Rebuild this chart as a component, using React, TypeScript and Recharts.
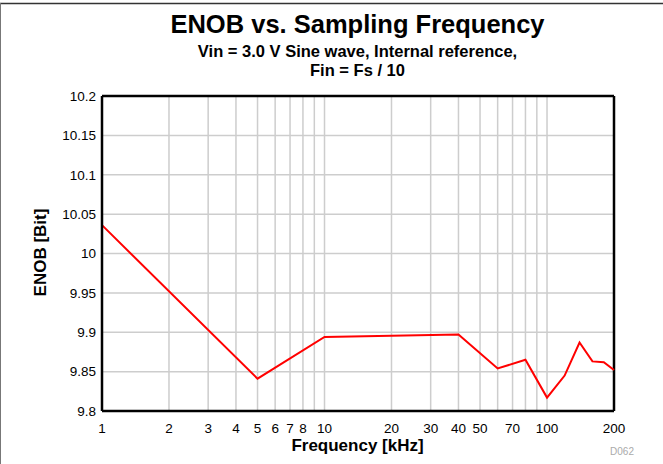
import React from "react";
import {
  LineChart,
  Line,
  XAxis,
  YAxis,
  CartesianGrid,
  ReferenceLine,
} from "recharts";

// sampling frequency (kHz) and measured ENOB (bit)
const frequency = [1, 5, 10, 40, 60, 80, 100, 120, 140, 160, 180, 200];
const enob = [
  10.036, 9.841, 9.894, 9.897, 9.854, 9.865, 9.817, 9.845, 9.887, 9.863,
  9.862, 9.852,
];

const xTicks = [
  1, 2, 3, 4, 5, 6, 7, 8, 9, 10, 20, 30, 40, 50, 60, 70, 80, 90, 100, 200,
];
const xTickLabels = [1, 2, 3, 4, 5, 6, 7, 8, 10, 20, 30, 40, 50, 70, 100, 200];
const yTicks = [9.8, 9.85, 9.9, 9.95, 10, 10.05, 10.1, 10.15, 10.2];

const data = frequency.map((f, i) => ({ f, enob: enob[i] }));

const FONT = '"Liberation Sans", Arial, Helvetica, sans-serif';
const tickStyle = { fontSize: 13.5, fill: "#000", fontFamily: FONT };

const App: React.FC = () => (
  <div
    style={{
      position: "absolute",
      left: 0,
      top: 0,
      width: 663,
      height: 464,
      background: "#fff",
      fontFamily: FONT,
    }}
  >
    <LineChart
      width={663}
      height={464}
      data={data}
      margin={{ top: 96, right: 49, bottom: 0, left: 0 }}
    >
      <CartesianGrid stroke="#cdcdcd" strokeWidth={1.5} ticks={xTicks} />
      <XAxis
        dataKey="f"
        type="number"
        scale="log"
        domain={[1, 200]}
        ticks={xTicks}
        interval={0}
        height={53}
        tickLine={false}
        tickSize={0}
        tickMargin={12}
        axisLine={{ stroke: "#000", strokeWidth: 2.5 }}
        tick={tickStyle}
        tickFormatter={(v: number) => (xTickLabels.includes(v) ? String(v) : "")}
      />
      <YAxis
        type="number"
        domain={[9.8, 10.2]}
        ticks={yTicks}
        interval={0}
        width={102}
        tickLine={false}
        tickSize={0}
        tickMargin={6}
        axisLine={{ stroke: "#000", strokeWidth: 2.5 }}
        tick={tickStyle}
      />
      <ReferenceLine y={10.2} stroke="#000" strokeWidth={2.5} />
      <ReferenceLine x={200} stroke="#000" strokeWidth={2.5} />
      <Line
        type="linear"
        dataKey="enob"
        stroke="#ff0000"
        strokeWidth={2}
        dot={false}
        isAnimationActive={false}
      />
    </LineChart>
    <svg
      width={663}
      height={464}
      style={{ position: "absolute", left: 0, top: 0, pointerEvents: "none" }}
      fontFamily={FONT}
    >
      <line x1={0} y1={3.5} x2={663} y2={3.5} stroke="#333" strokeWidth={1.5} />
      <line x1={0.5} y1={3} x2={0.5} y2={464} stroke="#777" strokeWidth={1} />
      <text x={357.5} y={33} textAnchor="middle" fontSize={25.5} fontWeight="bold">
        ENOB vs. Sampling Frequency
      </text>
      <text x={357.5} y={57} textAnchor="middle" fontSize={16.5} fontWeight="bold">
        Vin = 3.0 V Sine wave, Internal reference,
      </text>
      <text x={357.5} y={75.5} textAnchor="middle" fontSize={16.5} fontWeight="bold">
        Fin = Fs / 10
      </text>
      <text
        transform="translate(46, 252.5) rotate(-90)"
        textAnchor="middle"
        fontSize={17}
        fontWeight="bold"
      >
        ENOB [Bit]
      </text>
      <text x={357.5} y={451} textAnchor="middle" fontSize={17} fontWeight="bold">
        Frequency [kHz]
      </text>
      <text x={622} y={455} textAnchor="middle" fontSize={10} fill="#aaa">
        D062
      </text>
    </svg>
  </div>
);

export default App;
